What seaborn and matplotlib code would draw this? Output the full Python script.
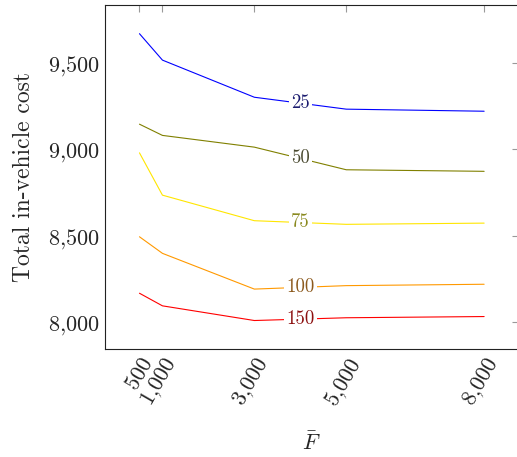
import numpy as np
import pandas as pd
import matplotlib
matplotlib.use("Agg")
import matplotlib.pyplot as plt
from matplotlib.ticker import FuncFormatter
import seaborn as sns

# F-bar values on the x axis
f_bar = [500, 1000, 3000, 5000, 8000]
# series labels
series = ["25", "50", "75", "100", "150"]
cost_25 = [9670, 9517, 9302, 9233, 9221]
cost_50 = [9146, 9081, 9013, 8882, 8873]
cost_75 = [8980, 8735, 8587, 8566, 8573]
cost_100 = [8494, 8398, 8191, 8211, 8219]
cost_150 = [8167, 8094, 8009, 8025, 8032]
line_colors = ["#0000ff", "#808000", "#ffe600", "#ff9900", "#ff0000"]
label_colors = ["#1c1c70", "#4a4a30", "#8a8a20", "#8c5a1e", "#8c1010"]
label_x = 4000

sns.set_style("white")
plt.rcParams["font.family"] = ["cmr10", "DejaVu Serif"]
plt.rcParams["mathtext.fontset"] = "cm"
plt.rcParams["axes.formatter.use_mathtext"] = True

all_costs = [cost_25, cost_50, cost_75, cost_100, cost_150]
df = pd.DataFrame({
    "F": f_bar * len(series),
    "cost": sum(all_costs, []),
    "series": [s for s in series for _ in f_bar],
})

fig = plt.figure(figsize=(5.17, 4.57), dpi=100)
ax = fig.add_axes([0.2031, 0.2363, 0.8, 0.7527])

sns.lineplot(data=df, x="F", y="cost", hue="series", palette=line_colors,
             linewidth=0.8, legend=False, ax=ax)

for s, costs, lc in zip(series, all_costs, label_colors):
    y = np.interp(label_x, f_bar, costs)
    ax.text(label_x, y, s, color=lc, fontsize=13.5, ha="center", va="center",
            bbox=dict(facecolor="white", edgecolor="none", pad=1.5))

ax.set_xlim(-250, 8750)
ax.set_ylim(7844, 9836)
ax.set_xticks(f_bar)
ax.set_yticks([8000, 8500, 9000, 9500])
fmt = FuncFormatter(lambda v, p: "$" + f"{int(v):,}".replace(",", "{,}") + "$")
ax.xaxis.set_major_formatter(fmt)
ax.yaxis.set_major_formatter(fmt)
ax.tick_params(direction="in", length=5, width=0.8, color="#999999",
               top=True, right=True, labelsize=16)
for lab in ax.get_xticklabels():
    lab.set_rotation(60)
    lab.set_ha("right")
    lab.set_rotation_mode("anchor")
for sp in ax.spines.values():
    sp.set_color("#222222")
    sp.set_linewidth(0.8)

ax.set_xlabel(r"$\bar{F}$", fontsize=16, labelpad=15)
ax.set_ylabel("Total in-vehicle cost", fontsize=17, labelpad=10)

fig.savefig("out.png", dpi=100)
